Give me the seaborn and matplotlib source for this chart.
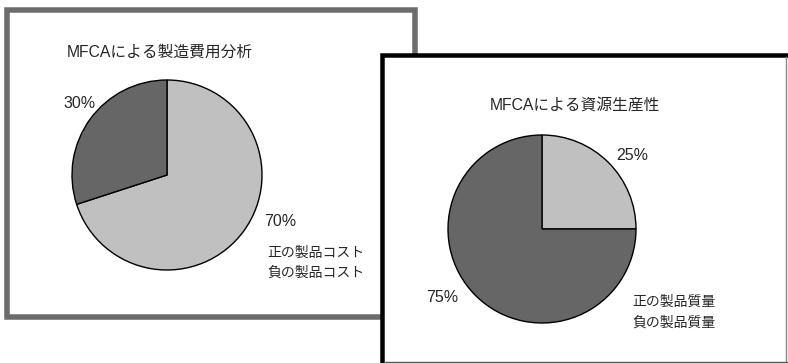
import matplotlib
matplotlib.use("Agg")
import matplotlib.pyplot as plt
from matplotlib.patches import Rectangle
import seaborn as sns

sns.set_theme(style="white")
plt.rcParams['font.family'] = ['Liberation Sans', 'Noto Sans CJK JP', 'DejaVu Sans']

# ---- data ----
left_title = "MFCAによる製造費用分析"
left_labels = ["正の製品コスト", "負の製品コスト"]
left_values = [70, 30]

right_title = "MFCAによる資源生産性"
right_labels = ["正の製品質量", "負の製品質量"]
right_values = [25, 75]

colors = ["#c0c0c0", "#666666"]

W, H = 788, 363
fig = plt.figure(figsize=(W / 100, H / 100), dpi=100)
ax = fig.add_axes([0, 0, 1, 1])


def Y(py):
    return H - py


px = 0.72  # points per pixel

# left panel frame
ax.add_patch(Rectangle((7, Y(316.5)), 408, 307, fill=True, facecolor="white",
                       edgecolor="#6b6b6b", linewidth=5.5 * px, zorder=1))

# left pie
ax.pie(left_values, colors=colors, startangle=90, counterclock=False,
       center=(167, Y(175)), radius=95,
       wedgeprops=dict(edgecolor="black", linewidth=1.0, zorder=2))
ax.text(67, Y(52), left_title, fontsize=11.3, ha="left", va="center", zorder=3)
ax.text(80, Y(103), f"{left_values[1]}%", fontsize=11.5, ha="center", va="center", zorder=3)
ax.text(280, Y(222), f"{left_values[0]}%", fontsize=11.5, ha="center", va="center", zorder=3)
for i, lab in enumerate(left_labels):
    ax.text(267, Y(253 + 20 * i), lab, fontsize=10, ha="left", va="center", zorder=3)

# right panel frame (top/left thick, extends past figure edge)
ax.add_patch(Rectangle((382.5, Y(400)), 450, 345, fill=True, facecolor="white",
                       edgecolor="black", linewidth=4.5 * px, zorder=5))
ax.plot([786.5, 786.5], [Y(57), Y(362)], color="#888888", lw=1.0, zorder=5.5)
ax.plot([384, 787], [Y(361.5), Y(361.5)], color="#555555", lw=1.0, zorder=5.5)

# right pie
ax.pie(right_values, colors=colors, startangle=90, counterclock=False,
       center=(542, Y(229)), radius=94,
       wedgeprops=dict(edgecolor="black", linewidth=1.0, zorder=6))
ax.text(490, Y(105), right_title, fontsize=11.3, ha="left", va="center", zorder=7)
ax.text(632, Y(156), f"{right_values[0]}%", fontsize=11.5, ha="center", va="center", zorder=7)
ax.text(442, Y(298), f"{right_values[1]}%", fontsize=11.5, ha="center", va="center", zorder=7)
for i, lab in enumerate(right_labels):
    ax.text(632, Y(302 + 21 * i), lab, fontsize=10, ha="left", va="center", zorder=7)

ax.set_xlim(0, W)
ax.set_ylim(0, H)
ax.set_aspect("auto")
ax.axis("off")

fig.savefig("out.png", dpi=100, facecolor="white")
